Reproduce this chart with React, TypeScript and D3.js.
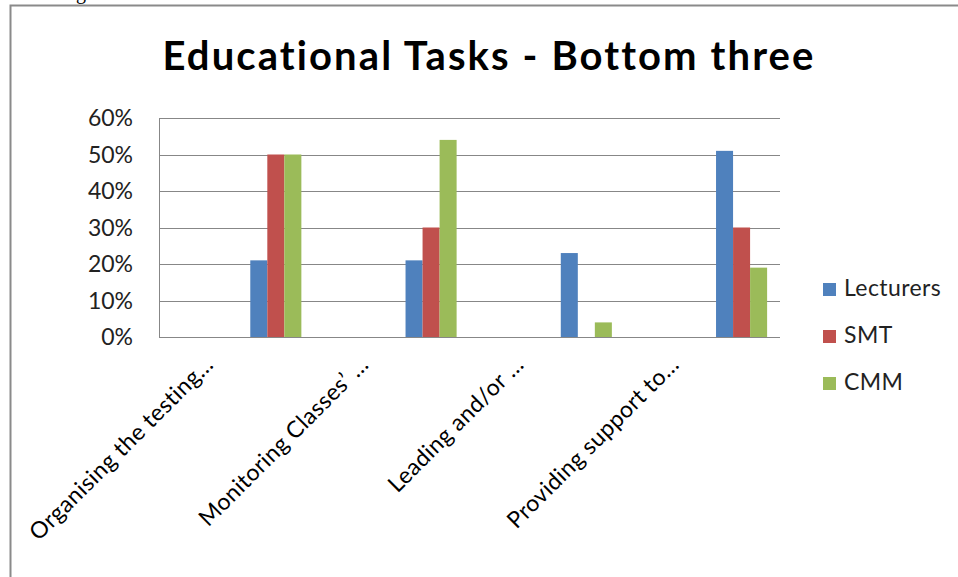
import React from "react";
import * as d3 from "d3";

const categories = [
  "Organising the testing…",
  "Monitoring Classes’ …",
  "Leading and/or …",
  "Providing support to…",
];
const seriesNames = ["Lecturers", "SMT", "CMM"];
const lecturers = [0.21, 0.21, 0.23, 0.51];
const smt = [0.5, 0.3, 0, 0.3];
const cmm = [0.5, 0.54, 0.04, 0.19];
const seriesValues = [lecturers, smt, cmm];
const seriesColors = ["#4F81BD", "#C0504D", "#9BBB59"];
const yTicks = [0, 0.1, 0.2, 0.3, 0.4, 0.5, 0.6];
const title = "Educational Tasks - Bottom three";

const W = 958;
const H = 577;
const plot = { left: 159, right: 780, top: 118, bottom: 337 };
const FONT = "Lato, 'Open Sans', sans-serif";

export default function App() {
  const x0 = d3.scaleBand<string>().domain(categories).range([plot.left, plot.right]).padding(0);
  const bw = x0.bandwidth();
  const x1 = d3.scaleBand<string>().domain(seriesNames).range([bw * 0.588, bw * 0.917]).padding(0);
  const y = d3.scaleLinear().domain([0, 0.6]).range([plot.bottom, plot.top]);
  const fmt = d3.format(".0%");

  return (
    <svg width={W} height={H} style={{ position: "absolute", left: 0, top: 0, background: "#fff" }}>
      <rect x={0} y={0} width={W} height={H} fill="#fff" />
      <text x={76} y={-1} fontFamily="'Liberation Serif', serif" fontSize={20} fill="#000">g</text>
      {/* chart frame */}
      <path d={`M10.5,${H} L10.5,5.5 L${W},5.5`} fill="none" stroke="#8a8a8a" strokeWidth={2} />
      <text x={489} y={70} textAnchor="middle" fontFamily={FONT} fontWeight="bold" fontSize={40} letterSpacing={2.1} fill="#000">
        {title}
      </text>
      {/* gridlines */}
      {yTicks.map((t) => (
        <line key={t} x1={plot.left} x2={plot.right} y1={Math.round(y(t)) + 0.5} y2={Math.round(y(t)) + 0.5} stroke="#878787" strokeWidth={1} />
      ))}
      <line x1={plot.left + 0.5} x2={plot.left + 0.5} y1={plot.top} y2={plot.bottom} stroke="#878787" strokeWidth={1} />
      {/* y labels */}
      {yTicks.map((t) => (
        <text key={"l" + t} x={133} y={y(t) + 8} textAnchor="end" fontFamily={FONT} fontSize={23} fill="#222">
          {fmt(t)}
        </text>
      ))}
      {/* bars */}
      {categories.map((c, i) => (
        <g key={c} transform={`translate(${x0(c)},0)`}>
          {seriesNames.map((s, k) => {
            const v = seriesValues[k][i];
            if (!v) return null;
            return (
              <rect key={s} x={x1(s)} y={y(v)} width={x1.bandwidth()} height={y(0) - y(v)} fill={seriesColors[k]} />
            );
          })}
        </g>
      ))}
      <line x1={plot.left} x2={plot.right} y1={plot.bottom + 0.5} y2={plot.bottom + 0.5} stroke="#878787" strokeWidth={1} />
      {/* x labels */}
      {categories.map((c) => {
        const cx = (x0(c) as number) + bw / 2 - 22;
        const cy = 366;
        return (
          <text key={"x" + c} transform={`translate(${cx},${cy}) rotate(-45)`} textAnchor="end" fontFamily={FONT} fontSize={23} letterSpacing={0.4} fill="#000">
            {c}
          </text>
        );
      })}
      {/* legend */}
      {seriesNames.map((s, k) => {
        const by = 296 + k * 47;
        return (
          <g key={"lg" + s}>
            <rect x={823} y={by - 13} width={13} height={13} fill={seriesColors[k]} />
            <text x={844} y={by} fontFamily={FONT} fontSize={23} letterSpacing={0.4} fill="#222">{s}</text>
          </g>
        );
      })}
    </svg>
  );
}
